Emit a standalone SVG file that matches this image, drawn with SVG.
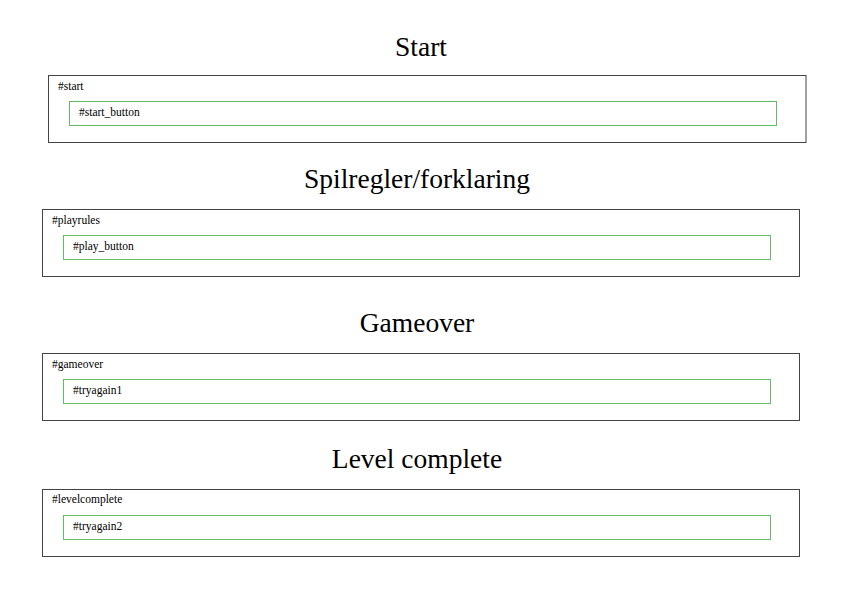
<svg xmlns="http://www.w3.org/2000/svg" width="842" height="595" viewBox="0 0 842 595">
<style>
.title{font-family:"Liberation Serif",serif;font-size:27.5px;fill:#000;text-anchor:middle}
.lbl{font-family:"Liberation Serif",serif;font-size:11.5px;fill:#000}
.outer{fill:#fff;stroke:#444;stroke-width:1}
.inner{fill:#fff;stroke:#66bb66;stroke-width:1}
</style>
<rect width="842" height="595" fill="#fff"/>
<g id="start">
<text class="title" x="421" y="56">Start</text>
<rect class="outer" x="48.5" y="75.5" width="757.5" height="67"/>
<text class="lbl" x="58" y="90">#start</text>
<g id="start_button">
<rect class="inner" x="69.5" y="101.5" width="707" height="24"/>
<text class="lbl" x="79" y="116">#start_button</text>
</g>
</g>
<g id="playrules">
<text class="title" x="417" y="188">Spilregler/forklaring</text>
<rect class="outer" x="42.5" y="209.5" width="757" height="67"/>
<text class="lbl" x="52" y="224">#playrules</text>
<g id="play_button">
<rect class="inner" x="63.5" y="235.5" width="707" height="24"/>
<text class="lbl" x="73" y="250">#play_button</text>
</g>
</g>
<g id="gameover">
<text class="title" x="417" y="332">Gameover</text>
<rect class="outer" x="42.5" y="353.5" width="757" height="67"/>
<text class="lbl" x="52" y="368">#gameover</text>
<g id="tryagain1">
<rect class="inner" x="63.5" y="379.5" width="707" height="24"/>
<text class="lbl" x="73" y="394">#tryagain1</text>
</g>
</g>
<g id="levelcomplete">
<text class="title" x="417" y="468">Level complete</text>
<rect class="outer" x="42.5" y="489.5" width="757" height="67"/>
<text class="lbl" x="52" y="503">#levelcomplete</text>
<g id="tryagain2">
<rect class="inner" x="63.5" y="515.5" width="707" height="24"/>
<text class="lbl" x="73" y="530">#tryagain2</text>
</g>
</g>
<g id="connectors"/>
</svg>
